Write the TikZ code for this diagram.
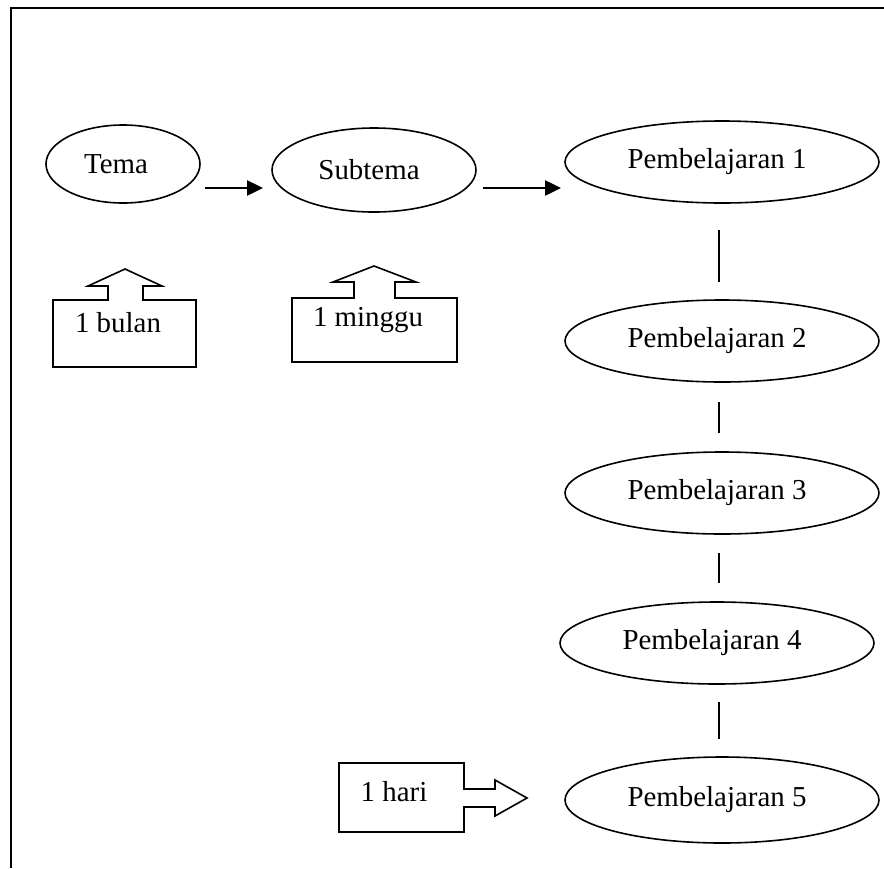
\documentclass[tikz,border=0pt]{standalone}
\usepackage{fontspec}
\setmainfont{Liberation Serif}
\usetikzlibrary{shapes.geometric,arrows.meta}
\begin{document}
\begin{tikzpicture}[x=1pt,y=-1pt,
  txt/.style={font=\fontsize{28.9}{34}\selectfont,inner sep=0pt},
  oval/.style={draw,ellipse,line width=1.6pt,inner sep=0pt,font=\fontsize{28.9}{34}\selectfont},
  pemb/.style={oval,minimum width=314pt,minimum height=82pt},
  flow/.style={line width=2.5pt,-{Triangle[length=16pt,width=15pt]}},
  link/.style={line width=1.6pt},
  callout/.style={draw,line width=1.6pt,line join=miter},
  frameline/.style={line width=2.5pt}]
\useasboundingbox (0,0) rectangle (884,868);
% frame (open at right and bottom)
\draw[frameline] (884,8) -- (11,8) -- (11,868);

% ellipses
\node[oval,minimum width=154pt,minimum height=78pt] (tema) at (123,164) {Tema\hspace*{14pt}};
\node[oval,minimum width=204pt,minimum height=84pt] (subtema) at (374,170) {Subtema\hspace*{10pt}};
\node[pemb] (p1) at (722,162) {Pembelajaran 1\hspace*{10pt}};
\node[pemb] (p2) at (722,341) {Pembelajaran 2\hspace*{10pt}};
\node[pemb] (p3) at (722,493) {Pembelajaran 3\hspace*{10pt}};
\node[pemb] (p4) at (717,643) {Pembelajaran 4\hspace*{10pt}};
\node[pemb,minimum height=86pt] (p5) at (722,800) {Pembelajaran 5\hspace*{10pt}};

% horizontal arrows
\coordinate (a1s) at (205,188); \coordinate (a1e) at (263,188);
\coordinate (a2s) at (483,188); \coordinate (a2e) at (561,188);
\draw[flow] (a1s) -- (a1e);
\draw[flow] (a2s) -- (a2e);

% vertical links
\coordinate (l1s) at (719,230); \coordinate (l1e) at (719,282);
\coordinate (l2s) at (719,402); \coordinate (l2e) at (719,433);
\coordinate (l3s) at (719,553); \coordinate (l3e) at (719,583);
\coordinate (l4s) at (719,702); \coordinate (l4e) at (719,739);
\draw[link] (l1s) -- (l1e);
\draw[link] (l2s) -- (l2e);
\draw[link] (l3s) -- (l3e);
\draw[link] (l4s) -- (l4e);

% callouts
\draw[callout] (53,300) -- (108,300) -- (108,286) -- (88,286) -- (125,269) -- (162,286)
  -- (143,286) -- (143,300) -- (196,300) -- (196,367) -- (53,367) -- cycle;
\node[txt] (bulan) at (118,323) {1 bulan};

\draw[callout] (292,298) -- (354,298) -- (354,282) -- (333,282) -- (374,266) -- (416,282)
  -- (395,282) -- (395,298) -- (457,298) -- (457,362) -- (292,362) -- cycle;
\node[txt] (minggu) at (368,320) {1 minggu};

\draw[callout] (339,763) -- (464,763) -- (464,789) -- (495,789) -- (495,780) -- (527,798)
  -- (495,816) -- (495,807) -- (464,807) -- (464,832) -- (339,832) -- cycle;
\node[txt] (hari) at (394,792) {1 hari};
\end{tikzpicture}
\end{document}
